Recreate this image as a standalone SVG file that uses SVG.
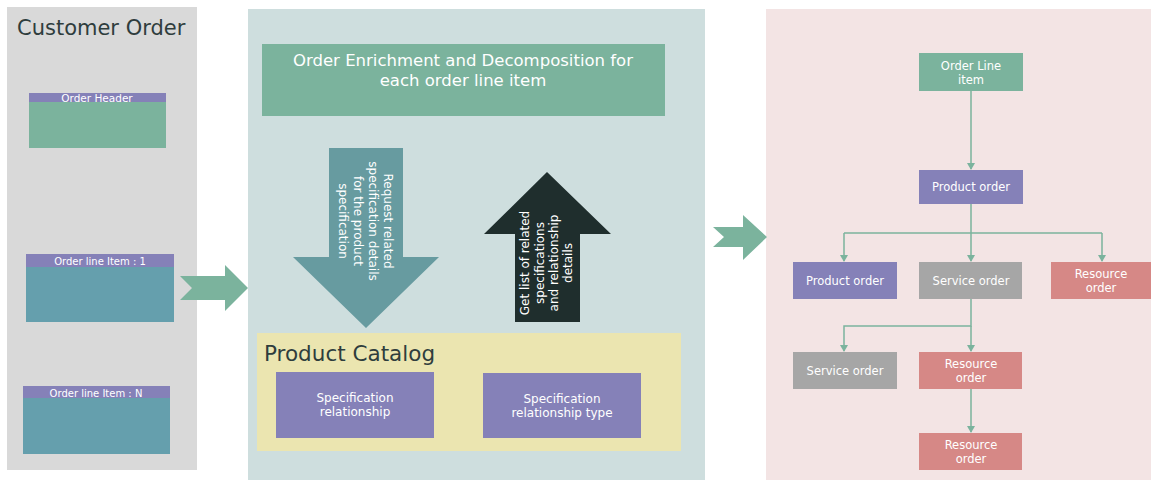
<svg xmlns="http://www.w3.org/2000/svg" width="1151" height="480" viewBox="0 0 1151 480">
<style>
text{font-family:"DejaVu Sans","Liberation Sans",sans-serif;}
.w{fill:#ffffff;text-anchor:middle;}
.t{fill:#2f3d3d;}
.s{font-size:11.5px;}
.r{font-size:12px;}
.xs{font-size:10px;}
.c{fill:none;stroke:#7bb39d;stroke-width:1.5;}
.green{fill:#7bb39d;}
.purple{fill:#8581b8;}
.teal{fill:#659fad;}
.gray{fill:#a6a6a6;}
.red{fill:#d68886;}
</style>
<defs>
<marker id="ah" markerWidth="8" markerHeight="8" refX="6" refY="4" orient="auto" markerUnits="userSpaceOnUse">
<path d="M0,0 L7,4 L0,8 Z" fill="#7bb39d"/>
</marker>
</defs>
<rect width="1151" height="480" fill="#ffffff"/>

<!-- Panels -->
<g id="customer-order">
<rect x="7" y="7" width="190" height="463" fill="#d9d9d9"/>
<text class="t" x="17" y="35" font-size="21">Customer Order</text>
</g>
<g id="enrichment-panel">
<rect x="248" y="9" width="457" height="471" fill="#cedede"/>
</g>
<g id="decomposition-panel">
<rect x="766" y="9" width="385" height="471" fill="#f3e4e4"/>
</g>

<!-- Left nodes -->
<g id="order-header">
<rect x="29" y="93" width="137" height="55" class="green"/>
<rect x="29" y="93" width="137" height="9" class="purple"/>
<text class="w" x="97" y="101.5" font-size="10.5">Order Header</text>
</g>
<g id="order-line-1">
<rect x="26" y="254" width="148" height="68" class="teal"/>
<rect x="26" y="254" width="148" height="13" class="purple"/>
<text class="w xs" x="100" y="265">Order line Item : 1</text>
</g>
<g id="order-line-n">
<rect x="23" y="386" width="147" height="68" class="teal"/>
<rect x="23" y="386" width="147" height="12" class="purple"/>
<text class="w xs" x="96" y="396.5">Order line Item : N</text>
</g>

<!-- Middle nodes -->
<g id="enrichment-header">
<rect x="262" y="44" width="403" height="72" class="green"/>
<text class="w" x="463" y="66" font-size="16.5">Order Enrichment and Decomposition for</text>
<text class="w" x="463" y="86" font-size="16.5">each order line item</text>
</g>
<g id="request-arrow">
<path d="M329,148 L403,148 L403,257 L439,257 L366,328 L293,257 L329,257 Z" fill="#679ba0"/>
<g transform="translate(0,221)">
<text class="w r" transform="translate(384,0) rotate(90)">Request related</text>
<text class="w r" transform="translate(369,0) rotate(90)">specification details</text>
<text class="w r" transform="translate(354,0) rotate(90)">for the product</text>
<text class="w r" transform="translate(339,0) rotate(90)">specification</text>
</g>
</g>
<g id="response-arrow">
<path d="M547,172 L611,234 L580,234 L580,322 L515,322 L515,234 L484,234 Z" fill="#1f2e2d"/>
<g transform="translate(0,263)">
<text class="w r" transform="translate(529,0) rotate(-90)">Get list of related</text>
<text class="w r" transform="translate(544,0) rotate(-90)">specifications</text>
<text class="w r" transform="translate(558,0) rotate(-90)">and relationship</text>
<text class="w r" transform="translate(572,0) rotate(-90)">details</text>
</g>
</g>
<g id="product-catalog">
<rect x="257" y="333" width="424" height="118" fill="#ebe5b0"/>
<text class="t" x="264" y="361" font-size="21.5">Product Catalog</text>
</g>
<g id="spec-relationship">
<rect x="276" y="372" width="158" height="66" class="purple"/>
<text class="w r" x="355" y="402">Specification</text>
<text class="w r" x="355" y="416">relationship</text>
</g>
<g id="spec-relationship-type">
<rect x="483" y="373" width="158" height="65" class="purple"/>
<text class="w r" x="562" y="403">Specification</text>
<text class="w r" x="562" y="417">relationship type</text>
</g>

<!-- Right nodes -->
<g id="order-line-item">
<rect x="919" y="53" width="104" height="38" class="green"/>
<text class="w s" x="971" y="70">Order Line</text>
<text class="w s" x="971" y="84">item</text>
</g>
<g id="product-order-top">
<rect x="919" y="170" width="104" height="34" class="purple"/>
<text class="w s" x="971" y="191">Product  order</text>
</g>
<g id="product-order-2">
<rect x="793" y="262" width="104" height="37" class="purple"/>
<text class="w s" x="845" y="285">Product order</text>
</g>
<g id="service-order-2">
<rect x="919" y="262" width="103" height="37" class="gray"/>
<text class="w s" x="971" y="285">Service order</text>
</g>
<g id="resource-order-2">
<rect x="1051" y="262" width="100" height="37" class="red"/>
<text class="w s" x="1101" y="278">Resource</text>
<text class="w s" x="1101" y="292">order</text>
</g>
<g id="service-order-3">
<rect x="793" y="352" width="104" height="37" class="gray"/>
<text class="w s" x="845" y="375">Service order</text>
</g>
<g id="resource-order-3">
<rect x="919" y="352" width="103" height="37" class="red"/>
<text class="w s" x="971" y="368">Resource</text>
<text class="w s" x="971" y="382">order</text>
</g>
<g id="resource-order-4">
<rect x="919" y="433" width="103" height="37" class="red"/>
<text class="w s" x="971" y="449">Resource</text>
<text class="w s" x="971" y="463">order</text>
</g>

<!-- Connectors -->
<g id="connectors">
<path d="M180,276 L225,276 L225,265 L248,288 L225,311 L225,300 L180,300 L192,288 Z" fill="#7bb39d"/>
<path d="M713,227 L743,227 L743,215 L767,237 L743,260 L743,247 L713,247 L724,237 Z" fill="#7bb39d"/>
<path class="c" d="M971,91 L971,169" marker-end="url(#ah)"/>
<path class="c" d="M971,204 L971,233"/>
<path class="c" d="M844,233 L1102,233"/>
<path class="c" d="M844,233 L844,261" marker-end="url(#ah)"/>
<path class="c" d="M971,233 L971,261" marker-end="url(#ah)"/>
<path class="c" d="M1102,233 L1102,261" marker-end="url(#ah)"/>
<path class="c" d="M971,299 L971,326 L844,326 L844,351" marker-end="url(#ah)"/>
<path class="c" d="M971,326 L971,351" marker-end="url(#ah)"/>
<path class="c" d="M971,389 L971,432" marker-end="url(#ah)"/>
</g>
</svg>
